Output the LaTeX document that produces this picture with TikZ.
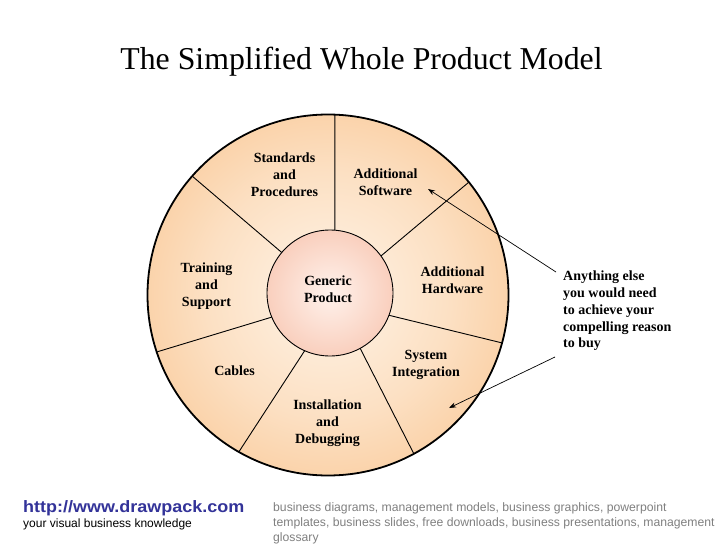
\documentclass[tikz,border=0pt]{standalone}
\usepackage{fontspec}
\usepackage{graphicx}
\setmainfont{Liberation Serif}
\newfontfamily\arialf{Liberation Sans}
\usetikzlibrary{calc,arrows.meta}
\definecolor{ringA}{RGB}{255,244,232}
\definecolor{ringB}{RGB}{252,224,195}
\definecolor{ringC}{RGB}{249,200,150}
\definecolor{ringD}{RGB}{246,174,106}
\definecolor{coreA}{RGB}{255,242,236}
\definecolor{coreB}{RGB}{248,200,180}
\definecolor{coreC}{RGB}{240,166,138}
\definecolor{urlblue}{RGB}{51,51,153}
\definecolor{footgray}{RGB}{128,128,128}
\pgfdeclareradialshading{ringshade}{\pgfpoint{0bp}{0bp}}{color(0bp)=(ringA); color(17bp)=(ringB); color(32bp)=(ringC); color(50bp)=(ringD)}
\pgfdeclareradialshading{coreshade}{\pgfpoint{0bp}{0bp}}{color(0bp)=(coreA); color(30bp)=(coreB); color(50bp)=(coreC)}
\begin{document}
\begin{tikzpicture}[x=1pt,y=-1pt,
  seglabel/.style={align=center,inner sep=0pt,font=\bfseries\fontsize{14}{17}\selectfont},
  spoke/.style={line width=0.9pt},
  callout/.style={line width=0.7pt,-{Stealth[length=7pt,width=5pt]}}]
\path[use as bounding box,fill=white] (0,0) rectangle (728,546);
% title
\node[anchor=base,inner sep=0pt,font=\fontsize{31.8}{36}\selectfont] (title) at (361.5,69) {The Simplified Whole Product Model};
% outer ring
\coordinate (oc) at (328,295);
\coordinate (ic) at (330,293);
\path[shading=ringshade] (oc) circle[radius=180.5pt];
\draw[line width=1.8pt] (oc) circle[radius=180.5pt];
% spokes
\foreach \n/\ia/\oa in {s1/-85.5/-87.8, s2/-140/-138.8, s3/-36/-38.7, s4/157.5/161.6, s5/20.7/15.4, s6/113.7/119.6, s7/61.4/61.6}{
  \coordinate (\n i) at ($(ic)+(\ia:63)$);
  \coordinate (\n o) at ($(oc)+(\oa:180)$);
  \draw[spoke] (\n i) -- (\n o);
}
% core
\path[shading=coreshade] (ic) circle[radius=63pt];
\draw[line width=0.9pt] (ic) circle[radius=63pt];
% labels
\node[seglabel] (gen) at (328,289.5) {Generic\\Product};
\node[seglabel] (std) at (284.5,174.5) {Standards\\and\\Procedures};
\node[seglabel] (sw) at (385.5,182) {Additional\\Software};
\node[seglabel] (trn) at (206.5,286) {Training\\and\\Support};
\node[seglabel] (hw) at (452.5,280) {Additional\\Hardware};
\node[seglabel] (cab) at (234.5,371) {Cables};
\node[seglabel] (sys) at (426,365) {System\\Integration};
\node[seglabel] (inst) at (327.5,423.5) {Installation\\and\\Debugging};
% note
\node[anchor=west,align=left,inner sep=0pt,font=\bfseries\fontsize{14}{16.8}\selectfont] (note) at (563,311) {Anything else\\you would need\\to achieve your\\compelling reason\\to buy};
\coordinate (a1s) at (556,272);
\coordinate (a1e) at (428,189);
\coordinate (a2s) at (555,357);
\coordinate (a2e) at (449,408);
\draw[callout] (a1s) -- (a1e);
\draw[callout] (a2s) -- (a2e);
% footer
\node[anchor=base west,inner sep=0pt,text=urlblue,font=\arialf\bfseries\fontsize{16.5}{19}\selectfont] (url) at (23,512) {\scalebox{1.09}[1]{http://www.drawpack.com}};
\node[anchor=base west,inner sep=0pt,font=\arialf\fontsize{12}{14}\selectfont] (tag) at (23,527) {your visual business knowledge};
\node[anchor=base west,inner sep=0pt,text=footgray,font=\arialf\fontsize{12.2}{14}\selectfont] (g1) at (273,511) {business diagrams, management models, business graphics, powerpoint};
\node[anchor=base west,inner sep=0pt,text=footgray,font=\arialf\fontsize{12.2}{14}\selectfont] (g2) at (273,526.3) {templates, business slides, free downloads, business presentations, management};
\node[anchor=base west,inner sep=0pt,text=footgray,font=\arialf\fontsize{12.2}{14}\selectfont] (g3) at (273,541.6) {glossary};
\end{tikzpicture}
\end{document}
